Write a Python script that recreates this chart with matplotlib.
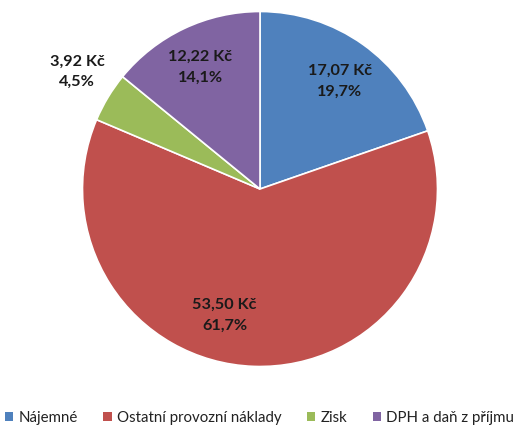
import matplotlib
matplotlib.use("Agg")
import matplotlib.pyplot as plt
from matplotlib.patches import Patch

categories = ["Nájemné", "Ostatní provozní náklady", "Zisk", "DPH a daň z příjmu"]
values = [17.07, 53.50, 3.92, 12.22]
value_labels = ["17,07 Kč", "53,50 Kč", "3,92 Kč", "12,22 Kč"]
pct_labels = ["19,7%", "61,7%", "4,5%", "14,1%"]
colors = ["#4F81BD", "#C0504D", "#9BBB59", "#8064A2"]

plt.rcParams['font.family'] = ['Lato', 'DejaVu Sans']

W, H = 519, 428
fig = plt.figure(figsize=(W / 100, H / 100), dpi=100)
cx, cy, r = 260, 189, 177.5
ax = fig.add_axes([(cx - r) / W, (H - cy - r) / H, 2 * r / W, 2 * r / H])
ax.pie(values, colors=colors, startangle=90, counterclock=False, radius=1,
       wedgeprops=dict(edgecolor="white", linewidth=1.2))
ax.set_xlim(-1, 1)
ax.set_ylim(-1, 1)
ax.set_aspect("equal")
ax.axis("off")

# label anchor positions (axes data coords, in pie radius units)
label_pos = [(0.45, 0.607), (-0.20, -0.71), (-1.03, 0.66), (-0.337, 0.685)]
for (x, y), v, p in zip(label_pos, value_labels, pct_labels):
    ax.text(x, y, v + "\n" + p, ha="center", va="center", fontsize=11.7,
            fontweight="bold", color="#1a1a1a", linespacing=1.6, clip_on=False)

handles = [Patch(facecolor=c, edgecolor="none") for c in colors]
fig.legend(handles, categories, loc="center", bbox_to_anchor=(0.5, 1 - 418 / H),
           ncol=4, frameon=False, fontsize=10.8, handlelength=0.55, handleheight=0.55,
           handletextpad=0.35, columnspacing=1.7, labelcolor="#222222")

fig.savefig("out.png", dpi=100, facecolor="white")
